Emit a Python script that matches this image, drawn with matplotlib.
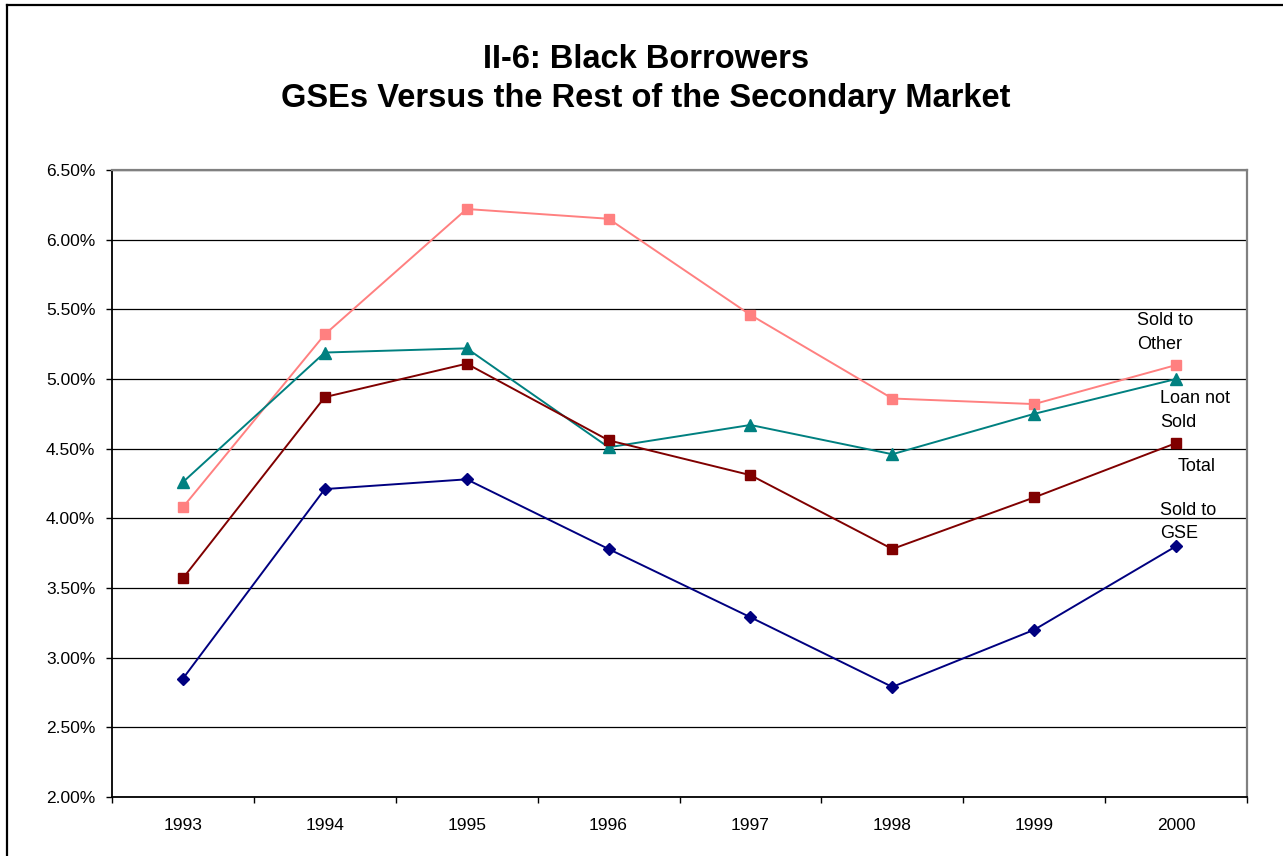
import matplotlib
matplotlib.use("Agg")
import matplotlib.pyplot as plt
from matplotlib.lines import Line2D
from matplotlib.ticker import FuncFormatter, FixedLocator
import numpy as np

plt.rcParams['font.family'] = ['Liberation Sans', 'DejaVu Sans']

years = ['1993', '1994', '1995', '1996', '1997', '1998', '1999', '2000']
sold_to_other = [4.08, 5.32, 6.22, 6.15, 5.46, 4.86, 4.82, 5.10]
loan_not_sold = [4.26, 5.19, 5.22, 4.51, 4.67, 4.46, 4.75, 5.00]
total = [3.57, 4.87, 5.11, 4.56, 4.31, 3.78, 4.15, 4.54]
sold_to_gse = [2.85, 4.21, 4.28, 3.78, 3.29, 2.79, 3.20, 3.80]

series = [
    (sold_to_other, '#FF8080', 's', 7.5, 'Sold to\nOther'),
    (loan_not_sold, '#008080', '^', 8, 'Loan not\nSold'),
    (total, '#800000', 's', 7.5, 'Total'),
    (sold_to_gse, '#000080', 'D', 6, 'Sold to\nGSE'),
]
# label anchor (x index, y value) for the text next to each line's end
label_pos = [(6.725, 5.48), (6.887, 4.92), (7.014, 4.43), (6.887, 4.12)]

fig = plt.figure(figsize=(12.83, 8.56), dpi=100)
fig.patch.set_facecolor('white')
ax = fig.add_axes([112 / 1283, 1 - 797 / 856, (1247 - 112) / 1283, (797 - 170) / 856])

x = np.arange(len(years))
for (vals, color, marker, ms, text), (lx, ly) in zip(series, label_pos):
    ax.plot(x, vals, color=color, lw=1.4, marker=marker, markersize=ms,
            markerfacecolor=color, markeredgecolor=color, zorder=3)
    ax.text(lx, ly, text, ha='left', va='top', fontsize=13, color='black',
            linespacing=1.5, zorder=4)

ax.set_xlim(-0.5, len(years) - 0.5)
ax.set_ylim(2.0, 6.5)

yt = np.arange(2.0, 6.51, 0.5)
ax.yaxis.set_major_locator(FixedLocator(yt))
ax.yaxis.set_major_formatter(FuncFormatter(lambda v, p: f"{v:.2f}%"))
ax.grid(axis='y', color='black', lw=0.9)
ax.set_axisbelow(True)

ax.set_xticks(x)
ax.set_xticklabels(years)
ax.set_xticks(np.arange(-0.5, len(years), 1.0), minor=True)
ax.tick_params(axis='x', which='major', length=0, pad=15, labelsize=12.5)
ax.tick_params(axis='x', which='minor', length=4, width=1.0, direction='out', color='black')
ax.tick_params(axis='y', length=4, width=1.0, direction='out', pad=8, labelsize=12.5)

for side in ('left', 'bottom'):
    ax.spines[side].set_color('black')
    ax.spines[side].set_linewidth(1.3)
for side in ('top', 'right'):
    ax.spines[side].set_color('#808080')
    ax.spines[side].set_linewidth(1.6)

fig.text(646 / 1283, 1 - 59 / 856, 'II-6: Black Borrowers', ha='center', va='center',
         fontsize=23.5, fontweight='bold')
fig.text(646 / 1283, 1 - 99 / 856, 'GSEs Versus the Rest of the Secondary Market',
         ha='center', va='center', fontsize=23.5, fontweight='bold')

# outer chart border
fig.add_artist(Line2D([7 / 1283, 7 / 1283], [0, 1 - 5 / 856], color='black', lw=1.6,
                      transform=fig.transFigure))
fig.add_artist(Line2D([7 / 1283, 1], [1 - 5 / 856, 1 - 5 / 856], color='black', lw=1.6,
                      transform=fig.transFigure))

fig.savefig('out.png', dpi=100, facecolor='white')
